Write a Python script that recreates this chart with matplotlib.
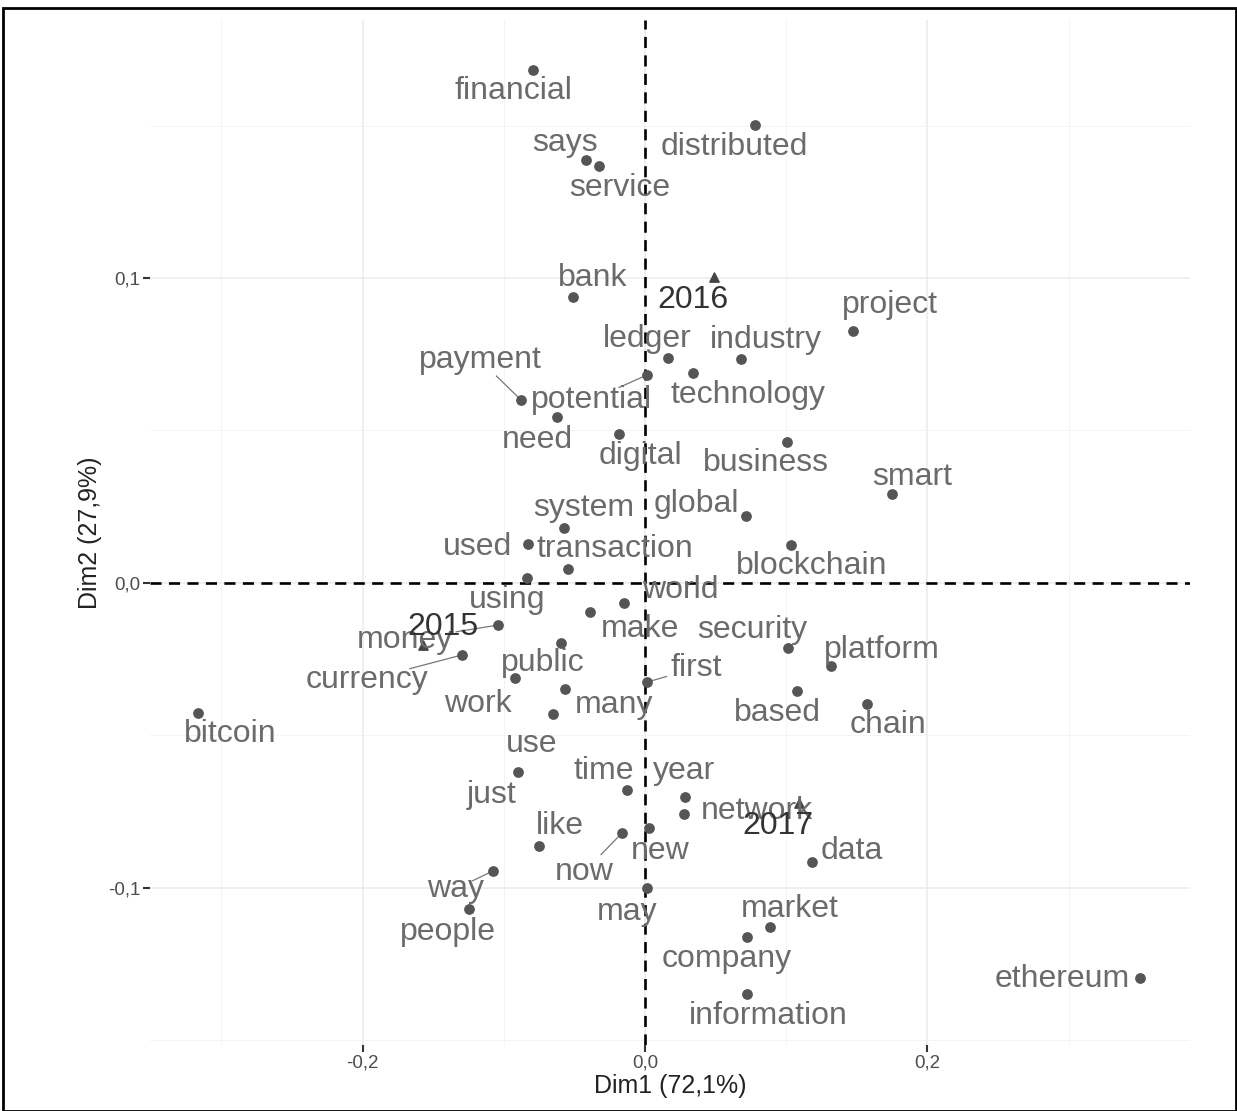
import matplotlib.pyplot as plt
from matplotlib.patches import Rectangle

# words (rows of the CA)
words = ["financial", "distributed", "says", "service", "bank", "project", "ledger",
         "industry", "technology", "potential", "payment", "need", "digital", "business",
         "smart", "global", "system", "used", "blockchain", "transaction", "using", "world",
         "make", "money", "security", "currency", "public", "platform", "first", "work",
         "many", "based", "chain", "bitcoin", "use", "just", "time", "year", "network",
         "like", "now", "new", "data", "way", "people", "may", "market", "company",
         "information", "ethereum"]
dim1 = [-0.0793, 0.0779, -0.0418, -0.0326, -0.0510, 0.1473, 0.0163,
        0.0680, 0.0340, 0.0014, -0.0878, -0.0623, -0.0184, 0.1006,
        0.1749, 0.0715, -0.0574, -0.0829, 0.1034, -0.0545, -0.0836, -0.0149,
        -0.0390, -0.1041, 0.1013, -0.1296, -0.0595, 0.1317, 0.0014, -0.0921,
        -0.0567, 0.1076, 0.1572, -0.3166, -0.0652, -0.0899, -0.0127, 0.0283, 0.0276,
        -0.0751, -0.0163, 0.0028, 0.1183, -0.1076, -0.1246, 0.0014, 0.0885, 0.0722,
        0.0722, 0.3506]
dim2 = [0.1682, 0.1502, 0.1387, 0.1367, 0.0938, 0.0826, 0.0738,
        0.0734, 0.0689, 0.0682, 0.0600, 0.0544, 0.0489, 0.0462,
        0.0292, 0.0220, 0.0180, 0.0128, 0.0125, 0.0046, 0.0016, -0.0066,
        -0.0095, -0.0138, -0.0213, -0.0236, -0.0197, -0.0272, -0.0325, -0.0311,
        -0.0348, -0.0354, -0.0397, -0.0426, -0.0430, -0.0620, -0.0679, -0.0702, -0.0757,
        -0.0862, -0.0820, -0.0803, -0.0915, -0.0944, -0.1069, -0.1000, -0.1128, -0.1161,
        -0.1348, -0.1295]

# years (columns)
years = ["2015", "2016", "2017"]
year_dim1 = [-0.157, 0.0489, 0.109]
year_dim2 = [-0.0203, 0.1003, -0.0721]

# where the repelled labels ended up
lab_pos = {
    "financial": (-0.0935, 0.1613), "distributed": (0.0630, 0.1430), "says": (-0.0567, 0.1443),
    "service": (-0.0177, 0.1295), "bank": (-0.0368, 0.1000), "project": (0.1735, 0.0911),
    "ledger": (0.0014, 0.0800), "industry": (0.0857, 0.0797), "payment": (-0.1169, 0.0731),
    "potential": (-0.0382, 0.0600), "technology": (0.0729, 0.0616), "need": (-0.0765, 0.0469),
    "digital": (-0.0035, 0.0416), "business": (0.0857, 0.0393), "smart": (0.1891, 0.0348),
    "system": (-0.0432, 0.0246), "global": (0.0361, 0.0259), "used": (-0.1183, 0.0118),
    "transaction": (-0.0212, 0.0111), "blockchain": (0.1183, 0.0056), "using": (-0.0977, -0.0056),
    "world": (0.0248, -0.0023), "money": (-0.1700, -0.0187), "make": (-0.0035, -0.0151),
    "security": (0.0758, -0.0154), "platform": (0.1678, -0.0220), "currency": (-0.1969, -0.0318),
    "public": (-0.0722, -0.0262), "first": (0.0361, -0.0279), "work": (-0.1183, -0.0397),
    "many": (-0.0220, -0.0400), "based": (0.0935, -0.0426), "chain": (0.1721, -0.0466),
    "bitcoin": (-0.2939, -0.0495), "use": (-0.0800, -0.0528), "time": (-0.0290, -0.0616),
    "year": (0.0276, -0.0616), "just": (-0.1084, -0.0695), "network": (0.0793, -0.0748),
    "like": (-0.0602, -0.0797), "new": (0.0106, -0.0879), "data": (0.1466, -0.0879),
    "now": (-0.0432, -0.0948), "way": (-0.1339, -0.1003), "market": (0.1027, -0.1069),
    "may": (-0.0127, -0.1079), "people": (-0.1395, -0.1144), "company": (0.0581, -0.1233),
    "ethereum": (0.2953, -0.1298), "information": (0.0871, -0.1420),
    "2015": (-0.1431, -0.0144), "2016": (0.0340, 0.0928), "2017": (0.0942, -0.0797),
}
# labels that got a segment back to their point
segs = {"payment": 0.6, "potential": 0.5, "now": 0.55, "way": 0.55,
        "currency": 0.55, "money": 0.45, "first": 0.4}

plt.rcParams['font.family'] = ['Liberation Sans', 'DejaVu Sans']

fig = plt.figure(figsize=(12.37, 11.11), dpi=100)
ax = fig.add_axes([150/1237, 1-1045/1111, 1040/1237, 1025/1111])

ax.set_xlim(-0.3506, 0.386)
ax.set_ylim(-0.1515, 0.1846)

ax.set_xticks([-0.2, 0.0, 0.2])
ax.set_xticklabels(["-0,2", "0,0", "0,2"])
ax.set_yticks([-0.1, 0.0, 0.1])
ax.set_yticklabels(["-0,1", "0,0", "0,1"])
ax.set_xticks([-0.3, -0.1, 0.1, 0.3], minor=True)
ax.set_yticks([-0.15, -0.05, 0.05, 0.15], minor=True)
ax.grid(True, which='major', color='#ebebeb', lw=1.1)
ax.grid(True, which='minor', color='#f2f2f2', lw=0.6)
ax.set_axisbelow(True)
for s in ax.spines.values():
    s.set_visible(False)
ax.tick_params(which='major', length=5, width=1.5, color='#333333', labelcolor='#4d4d4d',
               labelsize=13.5, pad=2)
ax.tick_params(which='minor', length=0)

ax.axvline(0, color='black', ls=(0, (4.2, 2.8)), lw=1.9, zorder=1)
ax.axhline(0, color='black', ls=(0, (4.2, 2.8)), lw=1.9, zorder=1)

ax.scatter(dim1, dim2, s=45, color='#555555', zorder=3)
ax.scatter(year_dim1, year_dim2, s=45, marker='^', color='#444444', zorder=3)

for w, x, y in zip(words, dim1, dim2):
    lx, ly = lab_pos[w]
    if w in segs:
        f = segs[w]
        ax.plot([x, x + f*(lx-x)], [y, y + f*(ly-y)], color='#777777', lw=0.9, zorder=2)
    ax.text(lx, ly, w, fontsize=23, color='#6b6b6b', ha='center', va='center', zorder=4)

for yr in years:
    lx, ly = lab_pos[yr]
    ax.text(lx, ly, yr, fontsize=23, color='#333333', ha='center', va='center', zorder=4)

ax.set_xlabel("Dim1 (72,1%)", fontsize=18, color='#222222', labelpad=2)
ax.set_ylabel("Dim2 (27,9%)", fontsize=18, color='#222222', labelpad=4)

fig.patches.append(Rectangle((3/1237, 0.0), 1 - 4/1237, 1 - 8/1111, transform=fig.transFigure,
                             fill=False, edgecolor='black', lw=2))

fig.savefig("out.png", dpi=100)
